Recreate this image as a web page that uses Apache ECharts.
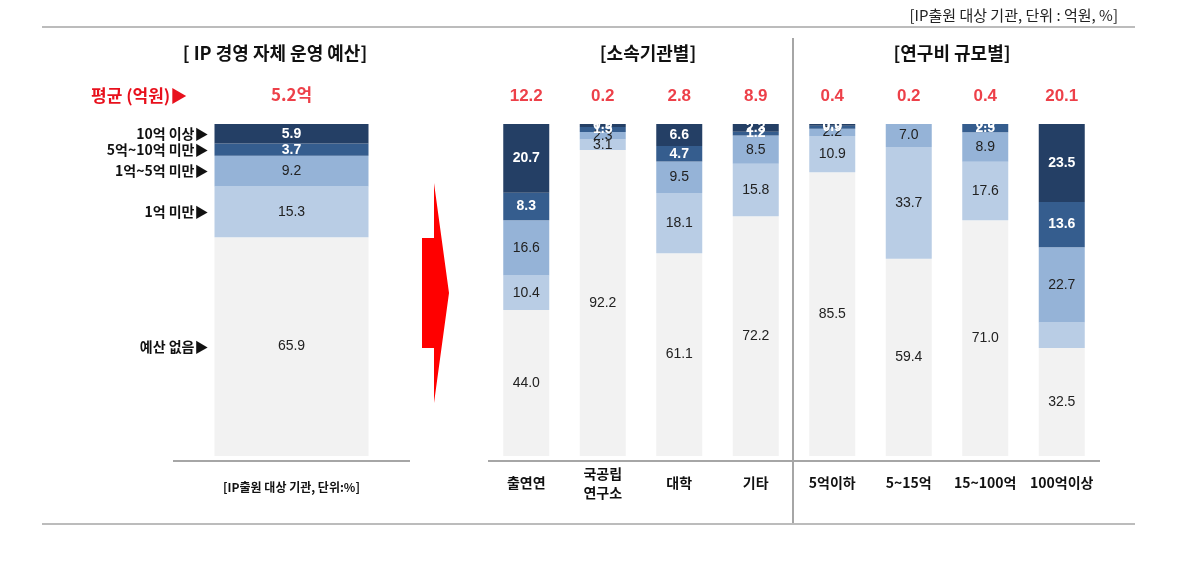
<!DOCTYPE html>
<html>
<head>
<meta charset="utf-8">
<script src="https://cdn.jsdelivr.net/npm/echarts@6/dist/echarts.min.js"></script>
<style>
  html, body { margin: 0; padding: 0; background: #ffffff; }
  #main { width: 1185px; height: 565px; }
</style>
</head>
<body>
<div id="main"></div>
<script>
// segments, bottom to top
var segNames = ["예산 없음", "1억 미만", "1억~5억 미만", "5억~10억 미만", "10억 이상"];
var segColors = ["#f2f2f2", "#b9cde5", "#95b3d7", "#355d8e", "#243f65"];
var labelColors = ["#222222", "#222222", "#222222", "#ffffff", "#ffffff"];

// left panel: IP 경영 자체 운영 예산
var leftCategory = ["[IP출원 대상 기관, 단위:%]"];
var leftValues = [65.9, 15.3, 9.2, 3.7, 5.9];
var leftAvg = "5.2억";

// right panel: 소속기관별 / 연구비 규모별
var categories = ["출연연", "국공립\n연구소", "대학", "기타", "5억이하", "5~15억", "15~100억", "100억이상"];
var noneVals = [44.0, 92.2, 61.1, 72.2, 85.5, 59.4, 71.0, 32.5];
var under1Vals = [10.4, 3.1, 18.1, 15.8, 10.9, 33.7, 17.6, 7.7];
var from1to5Vals = [16.6, 2.3, 9.5, 8.5, 2.2, 7.0, 8.9, 22.7];
var from5to10Vals = [8.3, 1.5, 4.7, 1.2, 0.9, 0.0, 2.5, 13.6];
var over10Vals = [20.7, 0.9, 6.6, 2.3, 0.5, 0.0, 0.0, 23.5];
var avgVals = [12.2, 0.2, 2.8, 8.9, 0.4, 0.2, 0.4, 20.1];
// cells printed without a value label
var hiddenLabels = [[1, 7]];

var rightSeriesData = [noneVals, under1Vals, from1to5Vals, from5to10Vals, over10Vals];
var numFont = "Liberation Sans, Arial, Noto Sans CJK KR, sans-serif";
var krFont = "Noto Sans CJK KR, sans-serif";

function isHidden(seg, idx) {
  return hiddenLabels.some(function(h) { return h[0] === seg && h[1] === idx; });
}

var series = [];

// left stacked bar
segNames.forEach(function(name, i) {
  series.push({
    name: name,
    type: "bar",
    stack: "left",
    xAxisIndex: 0,
    yAxisIndex: 0,
    barWidth: 154,
    barGap: "-100%",
    itemStyle: { color: segColors[i] },
    label: {
      show: true,
      position: "inside",
      color: labelColors[i],
      fontFamily: numFont,
      fontSize: 14,
      fontWeight: i >= 3 ? "bold" : "normal",
      formatter: function(p) { return p.value.toFixed(1); }
    },
    data: [leftValues[i]],
    z: 2
  });
});

// same stack again, invisible, only to print the segment names at the left
segNames.forEach(function(name, i) {
  series.push({
    name: name + "_name",
    type: "bar",
    stack: "leftNames",
    xAxisIndex: 0,
    yAxisIndex: 0,
    barWidth: 154,
    barGap: "-100%",
    itemStyle: { color: "rgba(0,0,0,0)" },
    label: {
      show: true,
      position: "left",
      distance: 6,
      color: "#111111",
      fontFamily: krFont,
      fontSize: 14,
      fontWeight: "bold",
      formatter: name + "▶"
    },
    data: [leftValues[i]],
    z: 1
  });
});

// left average above the bar
series.push({
  type: "scatter",
  xAxisIndex: 0,
  yAxisIndex: 0,
  symbolSize: 0,
  label: {
    show: true,
    position: "top",
    distance: 21,
    color: "#e8101c",
    fontFamily: krFont,
    fontSize: 17,
    fontWeight: "bold",
    formatter: leftAvg
  },
  data: [100]
});

// right stacked bars
rightSeriesData.forEach(function(vals, i) {
  series.push({
    name: segNames[i],
    type: "bar",
    stack: "right",
    xAxisIndex: 1,
    yAxisIndex: 1,
    barWidth: 46,
    itemStyle: { color: segColors[i] },
    label: {
      show: true,
      position: "inside",
      color: labelColors[i],
      fontFamily: numFont,
      fontSize: 14,
      fontWeight: i >= 3 ? "bold" : "normal",
      formatter: function(p) { return p.value.toFixed(1); }
    },
    data: vals.map(function(v, j) {
      return isHidden(i, j) ? { value: v, label: { show: false } } : v;
    })
  });
});

// red averages on top of the right bars
series.push({
  type: "scatter",
  xAxisIndex: 1,
  yAxisIndex: 1,
  symbolSize: 0,
  label: {
    show: true,
    position: "top",
    distance: 19,
    color: "#e8101c",
    fontFamily: numFont,
    fontSize: 17,
    fontWeight: "bold",
    formatter: function(p) { return avgVals[p.dataIndex].toFixed(1); }
  },
  data: avgVals.map(function() { return 100; })
});

var option = {
  backgroundColor: "#ffffff",
  animation: false,
  title: [
    { text: "[ IP 경영 자체 운영 예산]", left: 270, top: 39, textAlign: "center",
      textStyle: { fontFamily: krFont, fontSize: 18, fontWeight: "bold", color: "#111" } },
    { text: "[소속기관별]", left: 643, top: 39, textAlign: "center",
      textStyle: { fontFamily: krFont, fontSize: 18, fontWeight: "bold", color: "#111" } },
    { text: "[연구비 규모별]", left: 947, top: 39, textAlign: "center",
      textStyle: { fontFamily: krFont, fontSize: 18, fontWeight: "bold", color: "#111" } },
    { text: "[IP출원 대상 기관, 단위 : 억원, %]", right: 62, top: 3,
      textStyle: { fontFamily: krFont, fontSize: 15, fontWeight: "normal", color: "#222" } },
    { text: "평균 (억원)▶", left: 86, top: 82,
      textStyle: { fontFamily: krFont, fontSize: 17, fontWeight: "bold", color: "#e8101c" } }
  ],
  grid: [
    { left: 173, top: 124, width: 237, height: 332 },
    { left: 488, top: 124, width: 612, height: 332 }
  ],
  xAxis: [
    {
      type: "category", gridIndex: 0, data: leftCategory,
      axisLine: { show: false },
      axisTick: { show: false },
      axisLabel: { color: "#111", fontFamily: krFont, fontSize: 12, fontWeight: "bold",
        margin: 31, verticalAlign: "middle" }
    },
    {
      type: "category", gridIndex: 1, data: categories,
      axisLine: { show: false },
      axisTick: { show: false },
      axisLabel: { color: "#111", fontFamily: krFont, fontSize: 14, fontWeight: "bold",
        margin: 27, verticalAlign: "middle", lineHeight: 19, interval: 0 }
    }
  ],
  yAxis: [
    { type: "value", gridIndex: 0, min: 0, max: 100, show: false },
    { type: "value", gridIndex: 1, min: 0, max: 100, show: false }
  ],
  graphic: [
    { type: "line", shape: { x1: 42, y1: 27, x2: 1135, y2: 27 },
      style: { stroke: "#a6a6a6", lineWidth: 1.5 } },
    { type: "line", shape: { x1: 42, y1: 524, x2: 1135, y2: 524 },
      style: { stroke: "#a6a6a6", lineWidth: 1.5 } },
    { type: "line", shape: { x1: 793, y1: 38, x2: 793, y2: 523 },
      style: { stroke: "#a6a6a6", lineWidth: 2 } },
    // baselines below the bars
    { type: "line", shape: { x1: 173, y1: 461, x2: 410, y2: 461 },
      style: { stroke: "#a6a6a6", lineWidth: 2 } },
    { type: "line", shape: { x1: 488, y1: 461, x2: 1100, y2: 461 },
      style: { stroke: "#a6a6a6", lineWidth: 2 } },
    { type: "polygon",
      shape: { points: [[422, 238], [434, 238], [434, 183], [449, 293], [434, 403], [434, 348], [422, 348]] },
      style: { fill: "#ff0000" } }
  ],
  series: series
};

var myChart = echarts.init(document.getElementById("main"));
myChart.setOption(option);
window.onresize = function() {
  myChart.resize();
};
</script>
</body>
</html>
